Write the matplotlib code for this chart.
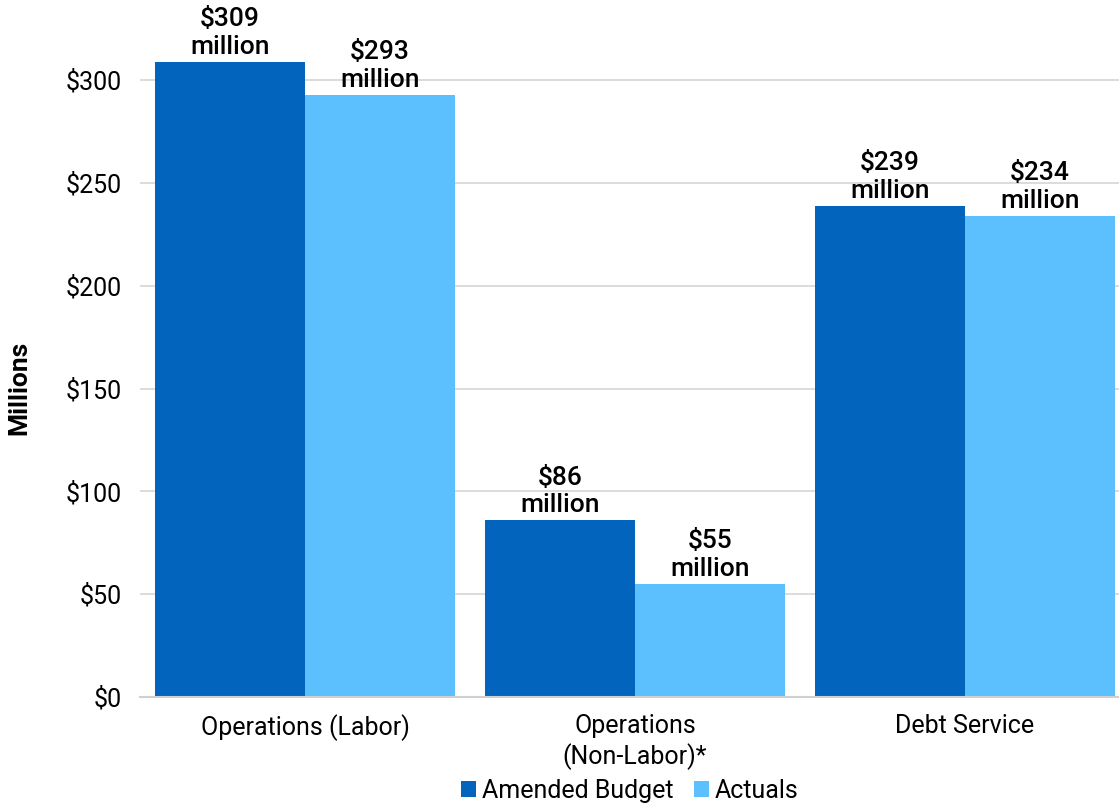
import numpy as np
import matplotlib.pyplot as plt

categories = ['Operations (Labor)', 'Operations\n(Non-Labor)*', 'Debt Service']
amended_budget = [309, 86, 239]
actuals = [293, 55, 234]
series_names = ['Amended Budget', 'Actuals']
yticks = [0, 50, 100, 150, 200, 250, 300]

dark_blue = '#0264BC'
light_blue = '#5CC0FE'

plt.rcParams['font.family'] = ['Roboto', 'DejaVu Sans']

fig = plt.figure(figsize=(11.19, 8.05), dpi=100)
ax = fig.add_axes([140 / 1119, 108 / 805, 990 / 1119, 697 / 805])

x = np.arange(len(categories))
w = 150 / 330
b1 = ax.bar(x - w / 2, amended_budget, width=w, color=dark_blue, label=series_names[0], zorder=3)
b2 = ax.bar(x + w / 2, actuals, width=w, color=light_blue, label=series_names[1], zorder=3)

# value labels above each bar
for bars, vals in [(b1, amended_budget), (b2, actuals)]:
    for bar, v in zip(bars, vals):
        ax.annotate(f'${v}\nmillion', (bar.get_x() + bar.get_width() / 2, v),
                    xytext=(0, 2), textcoords='offset points', ha='center', va='bottom',
                    fontsize=19, fontweight='medium', linespacing=1.2, color='black', zorder=4)

ax.set_xlim(-0.5, 2.5)
ax.set_ylim(0, 339)
ax.set_yticks(yticks)
ax.set_yticklabels([f'${t}' for t in yticks])
ax.set_xticks(x)
ax.set_xticklabels(categories, linespacing=1.25)
ax.tick_params(axis='y', length=0, pad=13, labelsize=18, colors='black')
ax.tick_params(axis='x', length=0, pad=12, labelsize=18, colors='black')
ax.grid(axis='y', color='#D9D9D9', linewidth=1.3, zorder=0)
for s in ['top', 'right', 'left']:
    ax.spines[s].set_visible(False)
ax.spines['bottom'].set_color('#D0D0D0')
ax.spines['bottom'].set_linewidth(1.5)
ax.spines['bottom'].set_zorder(5)

fig.text(19 / 1119, 1 - 388 / 805, 'Millions', rotation=90, ha='center', va='center',
         fontsize=19, fontweight='bold')

fig.legend(handles=[b1, b2], loc='center', bbox_to_anchor=(630 / 1119, 1 - 791 / 805),
           ncol=2, frameon=False, fontsize=18, handlelength=0.6, handleheight=0.6,
           handletextpad=0.25, columnspacing=0.8, borderpad=0)

fig.savefig('out.png', dpi=100)
